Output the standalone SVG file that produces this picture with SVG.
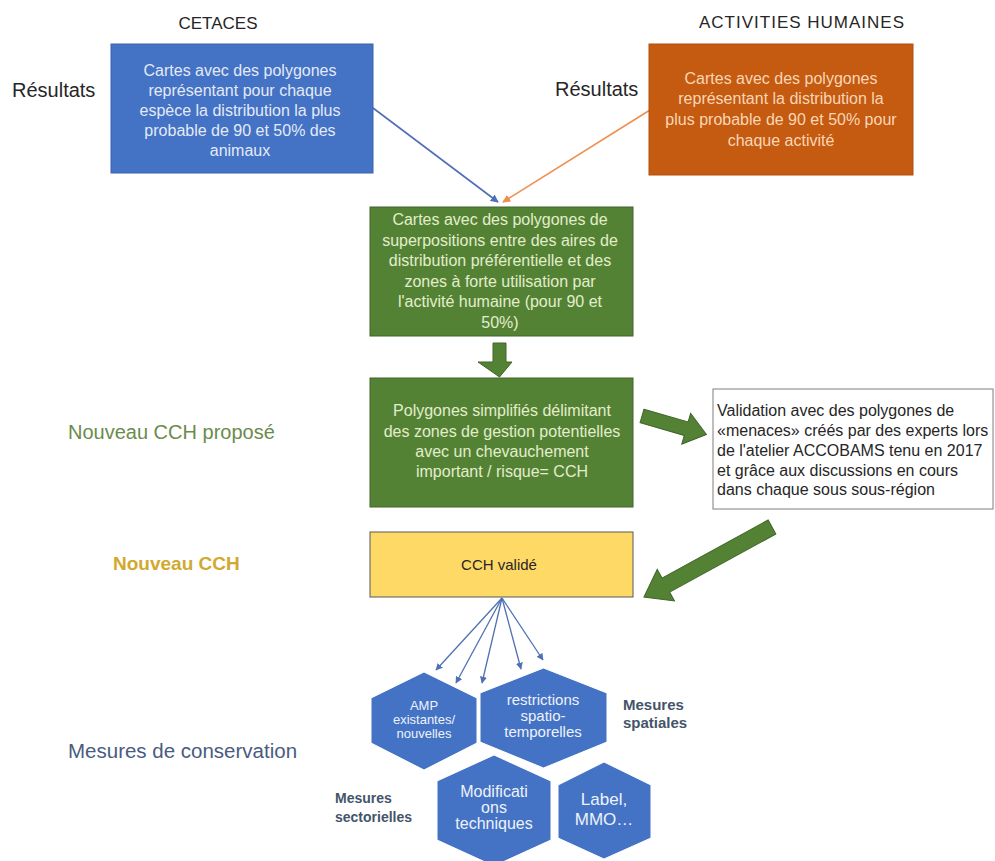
<svg xmlns="http://www.w3.org/2000/svg" width="995" height="861" viewBox="0 0 995 861">
<style>
text{font-family:"Liberation Sans",Arial,sans-serif}
.lbl{font-size:20px;fill:#262626}
.hdr{font-size:17px;fill:#262626}
.bt{font-size:16px;text-anchor:middle}
.hx{fill:#4472c4;stroke:#ffffff;stroke-width:1}
.ht{fill:#eef2fa;text-anchor:middle}
.side{font-size:15px;font-weight:bold;fill:#44546a}
.big{fill:#548235;stroke:#3f6428;stroke-width:1}
.fan{stroke:#4f71b3;stroke-width:1.3;fill:none;marker-end:url(#ah)}
</style>
<defs>
<marker id="ah" viewBox="0 0 10 10" refX="9" refY="5" markerWidth="7" markerHeight="7" markerUnits="userSpaceOnUse" orient="auto">
<path d="M0,0 L10,5 L0,10 z" fill="#4f71b3"/>
</marker>
<marker id="ahb" viewBox="0 0 10 10" refX="9" refY="5" markerWidth="8" markerHeight="8" markerUnits="userSpaceOnUse" orient="auto">
<path d="M0,0 L10,5 L0,10 z" fill="#4f6fb8"/>
</marker>
<marker id="aho" viewBox="0 0 10 10" refX="9" refY="5" markerWidth="8" markerHeight="8" markerUnits="userSpaceOnUse" orient="auto">
<path d="M0,0 L10,5 L0,10 z" fill="#ef8f4f"/>
</marker>
</defs>

<g id="labels">
<text class="hdr" x="218" y="29" text-anchor="middle">CETACES</text>
<text class="hdr" x="802" y="28" text-anchor="middle" letter-spacing="1">ACTIVITIES HUMAINES</text>
<text class="lbl" x="12" y="97">Résultats</text>
<text class="lbl" x="555" y="96">Résultats</text>
<text x="68" y="439" style="font-size:20px;fill:#6b8b4c">Nouveau CCH proposé</text>
<text x="113" y="570" style="font-size:19px;font-weight:bold;fill:#d1a92e">Nouveau CCH</text>
<text x="68" y="758" style="font-size:20.5px;fill:#4a5b80">Mesures de conservation</text>
<text class="side" x="623" y="710">Mesures</text>
<text class="side" x="623" y="728">spatiales</text>
<text class="side" x="335" y="803" style="font-size:14px">Mesures</text>
<text class="side" x="335" y="822" style="font-size:14px">sectorielles</text>
</g>

<g id="connectors">
<line x1="373" y1="108" x2="498" y2="202" stroke="#4f6fb8" stroke-width="1.6" marker-end="url(#ahb)"/>
<line x1="650" y1="110" x2="503" y2="202" stroke="#ef8f4f" stroke-width="1.6" marker-end="url(#aho)"/>
<polygon class="big" points="493,343 506,343 506,362 512,362 499.5,377 478,362 493,362"/>
<polygon class="big" transform="translate(642,416) rotate(16)" points="0,-7 46,-7 46,-16 67,0 46,16 46,7 0,7"/>
<polygon class="big" transform="translate(772,527) rotate(151.3)" points="0,-8 121,-8 121,-18 146,0 121,18 121,8 0,8"/>
<line class="fan" x1="502" y1="598" x2="436" y2="670"/>
<line class="fan" x1="502" y1="598" x2="456" y2="683"/>
<line class="fan" x1="502" y1="598" x2="482" y2="683"/>
<line class="fan" x1="502" y1="598" x2="521" y2="669"/>
<line class="fan" x1="502" y1="598" x2="543" y2="660"/>
</g>

<g id="cetaces">
<rect x="111" y="44" width="262" height="129" fill="#4472c4" stroke="#3a62ad" stroke-width="1"/>
<text class="bt" fill="#e3eaf7"><tspan x="240" y="76">Cartes avec des polygones</tspan><tspan x="240" y="96">représentant pour chaque</tspan><tspan x="240" y="116">espèce la distribution la plus</tspan><tspan x="240" y="136">probable de 90 et 50% des</tspan><tspan x="240" y="156">animaux</tspan></text>
</g>

<g id="activites">
<rect x="649" y="44" width="264" height="131" fill="#c55a11" stroke="#b04f0f" stroke-width="1"/>
<text class="bt" fill="#f9d6b6"><tspan x="781" y="84">Cartes avec des polygones</tspan><tspan x="781" y="104">représentant la distribution la</tspan><tspan x="781" y="125">plus probable de 90 et 50% pour</tspan><tspan x="781" y="146">chaque activité</tspan></text>
</g>

<g id="superposition">
<rect x="370" y="207" width="263" height="129" fill="#548235" stroke="#40652a" stroke-width="1"/>
<text class="bt" fill="#e2eecb"><tspan x="500" y="225">Cartes avec des polygones  de</tspan><tspan x="500" y="245.5">superpositions  entre des aires de</tspan><tspan x="500" y="266">distribution  préférentielle et des</tspan><tspan x="500" y="286.5">zones à forte utilisation par</tspan><tspan x="500" y="307">l'activité humaine (pour 90 et</tspan><tspan x="500" y="327.5">50%)</tspan></text>
</g>

<g id="polygones">
<rect x="370" y="378" width="263" height="129" fill="#548235" stroke="#40652a" stroke-width="1"/>
<text class="bt" fill="#e2eecb"><tspan x="502" y="416">Polygones  simplifiés  délimitant</tspan><tspan x="502" y="437">des zones de gestion potentielles</tspan><tspan x="502" y="457">avec un chevauchement</tspan><tspan x="502" y="477">important / risque= CCH</tspan></text>
</g>

<g id="validation">
<rect x="713" y="389" width="280" height="120" fill="#ffffff" stroke="#7f7f7f" stroke-width="1"/>
<text style="font-size:16px;fill:#262626"><tspan x="717" y="416">Validation avec des polygones de</tspan><tspan x="717" y="436">«menaces» créés par des experts lors</tspan><tspan x="717" y="456">de l'atelier ACCOBAMS  tenu en 2017</tspan><tspan x="717" y="476">et grâce aux discussions  en cours</tspan><tspan x="717" y="495">dans chaque sous sous-région</tspan></text>
</g>

<g id="cch-valide">
<rect x="370" y="532" width="263" height="65" fill="#ffd966" stroke="#595959" stroke-width="1"/>
<text x="499" y="570" text-anchor="middle" style="font-size:15px;fill:#262626">CCH validé</text>
</g>

<g id="amp">
<polygon class="hx" points="424,672 477,698 477,743 424,770 371,743 371,698"/>
<text class="ht" style="font-size:13px"><tspan x="424" y="710">AMP</tspan><tspan x="424" y="724">existantes/</tspan><tspan x="424" y="738">nouvelles</tspan></text>
</g>

<g id="restrictions">
<polygon class="hx" points="543.5,668 607,693 607,742 543.5,768 480,742 480,693"/>
<text class="ht" style="font-size:15px"><tspan x="543" y="705">restrictions</tspan><tspan x="543" y="721">spatio-</tspan><tspan x="543" y="737">temporelles</tspan></text>
</g>

<g id="modifications">
<polygon class="hx" points="494,755 551,781 551,840 494,866 437,840 437,781"/>
<text class="ht" style="font-size:16px"><tspan x="494" y="797">Modificati</tspan><tspan x="494" y="813">ons</tspan><tspan x="494" y="829">techniques</tspan></text>
</g>

<g id="label">
<polygon class="hx" points="604,762 651,785 651,838 604,859 558,838 558,785"/>
<text class="ht" style="font-size:17px"><tspan x="604" y="805">Label,</tspan><tspan x="604" y="825">MMO…</tspan></text>
</g>
</svg>
